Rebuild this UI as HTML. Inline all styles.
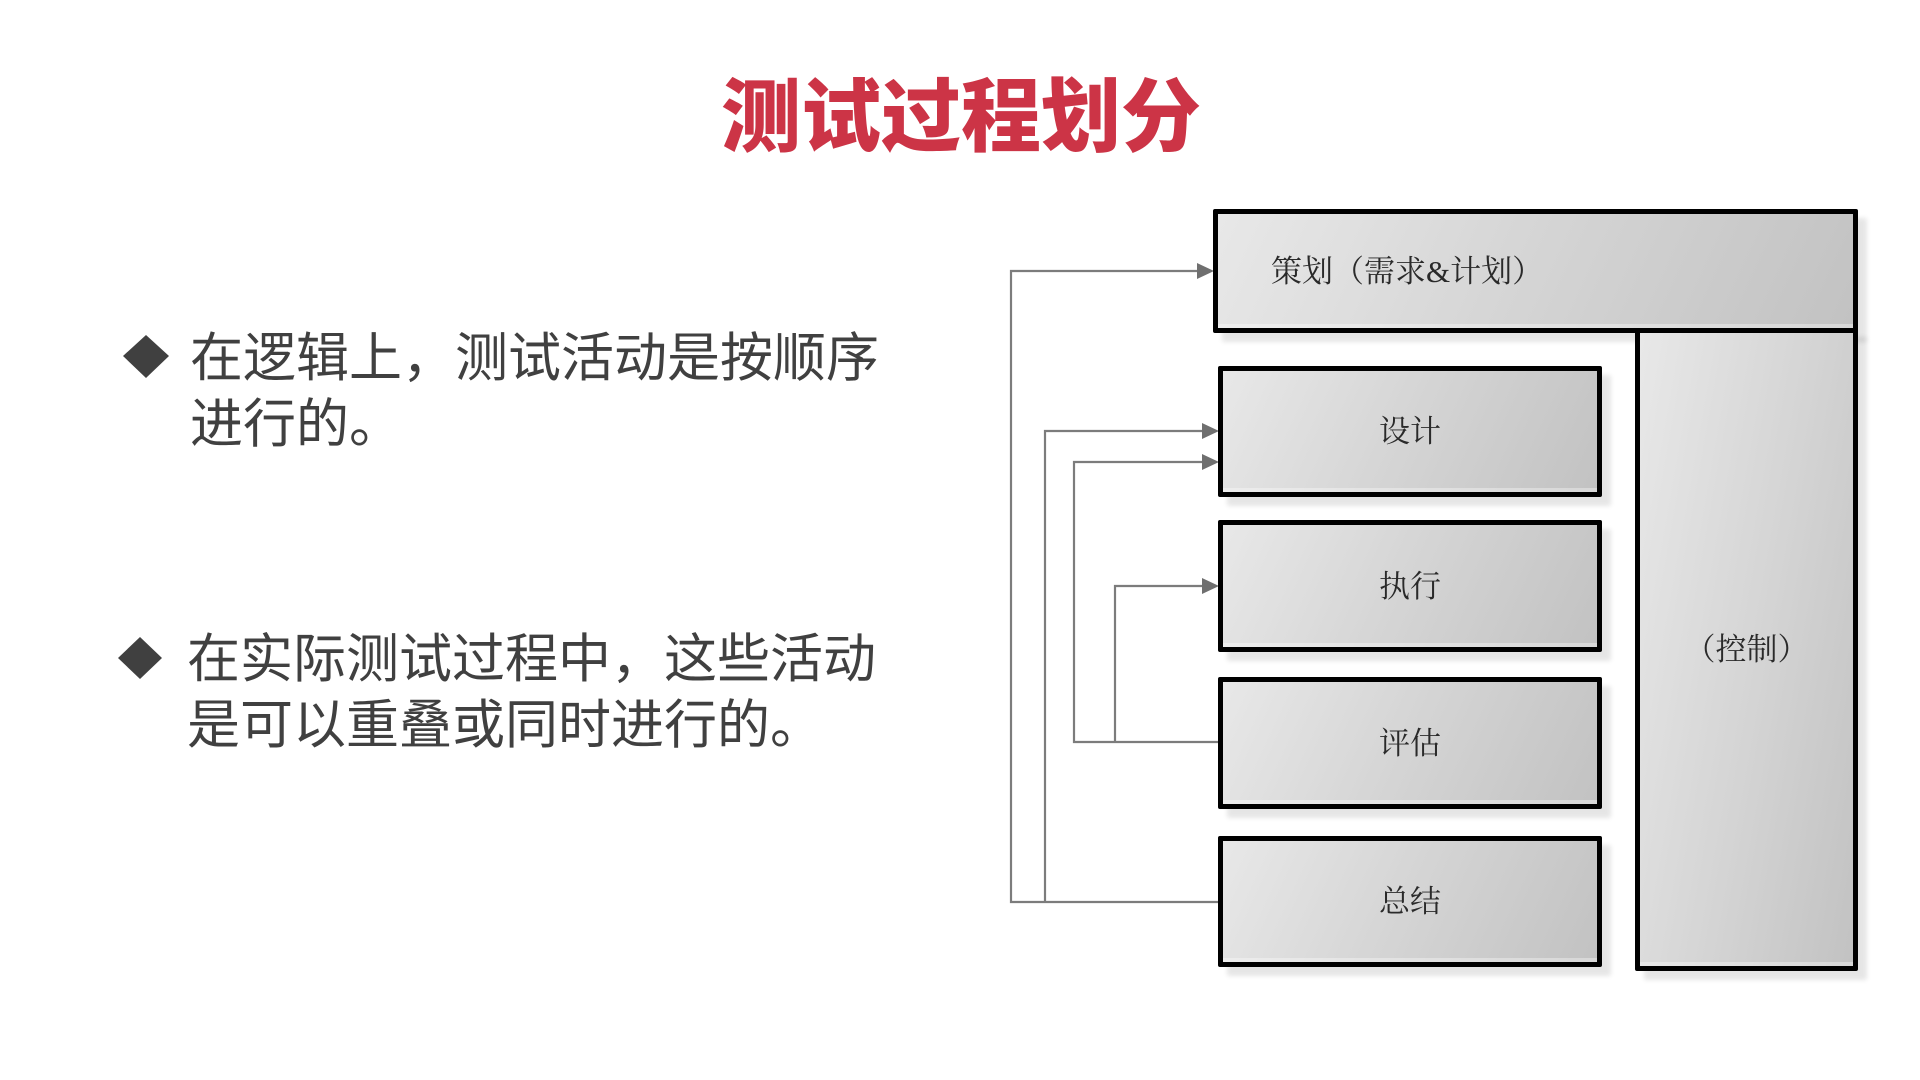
<!DOCTYPE html>
<html>
<head>
<meta charset="utf-8">
<style>
html,body{margin:0;padding:0;background:#fff;}
body{width:1920px;height:1080px;position:relative;overflow:hidden;}
.title{position:absolute;left:0;width:1922px;top:78px;text-align:center;font-family:"Liberation Sans","Noto Sans CJK SC",sans-serif;font-weight:900;font-size:80px;line-height:80px;color:#cc3446;white-space:nowrap;}
.bt{position:absolute;font-family:"Liberation Sans","Noto Sans CJK SC",sans-serif;font-size:53px;line-height:66px;color:#404040;white-space:nowrap;}
.box{position:absolute;box-sizing:border-box;border:5px solid #000;border-radius:2px;background:linear-gradient(115deg,#e8e8e8 0%,#d6d6d6 45%,#c2c2c2 100%);box-shadow:inset 0 -4px 0 rgba(255,255,255,0.35),9px 9px 5px rgba(0,0,0,0.10);display:flex;align-items:center;justify-content:center;font-family:"Liberation Serif","Noto Serif CJK SC",serif;font-size:31px;color:#2a2a2a;padding-bottom:6px;}
</style>
</head>
<body>
<div class="title">测试过程划分</div>

<svg width="1920" height="1080" style="position:absolute;left:0;top:0">
  <polygon points="146,335 169,356 146,378 123,356" fill="#404040"/>
  <polygon points="140,637 162,658 140,679 118,658" fill="#404040"/>
</svg>

<div class="bt" style="left:190px;top:326px;">在逻辑上，测试活动是按顺序<br>进行的。</div>
<div class="bt" style="left:187px;top:627px;">在实际测试过程中，这些活动<br>是可以重叠或同时进行的。</div>

<svg width="1920" height="1080" style="position:absolute;left:0;top:0">
  <g fill="none" stroke="#7c7c7c" stroke-width="2.2">
    <path d="M1218 902 H1011 V271 H1200"/>
    <path d="M1045 902 V431 H1205"/>
    <path d="M1218 742 H1074 V462 H1205"/>
    <path d="M1115 742 V586 H1205"/>
  </g>
  <g fill="#6f6f6f">
    <polygon points="1197,263 1214,271 1197,279"/>
    <polygon points="1202,423 1219,431 1202,439"/>
    <polygon points="1202,454 1219,462 1202,470"/>
    <polygon points="1202,578 1219,586 1202,594"/>
  </g>
</svg>

<div class="box" style="left:1213px;top:209px;width:645px;height:124px;justify-content:flex-start;padding-left:53px;">策划（需求&amp;计划）</div>
<div class="box" style="left:1635px;top:328px;width:223px;height:643px;background:linear-gradient(100deg,#e8e8e8 0%,#d4d4d4 55%,#c2c2c2 100%);">（控制）</div>

<div class="box" style="left:1218px;top:366px;width:384px;height:131px;">设计</div>
<div class="box" style="left:1218px;top:520px;width:384px;height:132px;">执行</div>
<div class="box" style="left:1218px;top:677px;width:384px;height:132px;">评估</div>
<div class="box" style="left:1218px;top:836px;width:384px;height:131px;">总结</div>
</body>
</html>
